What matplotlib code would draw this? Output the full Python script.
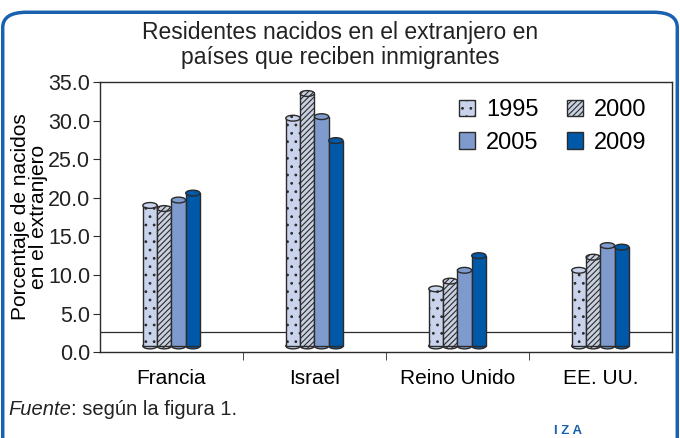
import matplotlib.pyplot as plt
from matplotlib.patches import Ellipse, FancyBboxPatch
import numpy as np

plt.rcParams['font.family'] = ['Liberation Sans Narrow', 'Liberation Sans', 'DejaVu Sans']
plt.rcParams['hatch.linewidth'] = 0.8

# data
countries = ['Francia', 'Israel', 'Reino Unido', 'EE. UU.']
years = ['1995', '2000', '2005', '2009']
v1995 = [19.0, 30.3, 8.2, 10.6]
v2000 = [18.6, 33.5, 9.2, 12.3]
v2005 = [19.7, 30.5, 10.6, 13.8]
v2009 = [20.6, 27.4, 12.5, 13.6]
series = [v1995, v2000, v2005, v2009]

colors = ['#c9d3ec', '#c9d0e2', '#7f9bcd', '#0058a9']
hatches = ['..', '//////', None, None]
edge = '#2b2b2b'

fig = plt.figure(figsize=(6.8, 4.38), dpi=100)
ax = fig.add_axes([0.147, 0.196, 0.841, 0.617])

x = np.arange(len(countries))
w = 0.1
base = 0.8      # bars stand on the 3D floor
ell_h = 0.75
handles = []
for i, vals in enumerate(series):
    xs = x + (i - 1.5) * w
    b = ax.bar(xs, np.array(vals) - base, bottom=base, width=w, color=colors[i],
               hatch=hatches[i], edgecolor=edge, linewidth=1.0, zorder=3, label=years[i])
    handles.append(b)
    for xi, v in zip(xs, vals):
        ax.add_patch(Ellipse((xi, base), w, ell_h, facecolor=colors[i], hatch=hatches[i],
                             edgecolor=edge, linewidth=1.0, zorder=2.9))
        ax.add_patch(Ellipse((xi, v), w, ell_h, facecolor=colors[i], hatch=hatches[i],
                             edgecolor=edge, linewidth=1.0, zorder=4))

ax.axhline(2.6, color='#2b2b2b', linewidth=0.9, zorder=1)

ax.set_xlim(-0.5, 3.5)
ax.set_ylim(0, 35)
ax.set_yticks(np.arange(0, 35.1, 5))
ax.set_yticklabels(['%.1f' % t for t in np.arange(0, 35.1, 5)], fontsize=15.5)
ax.set_xticks(x)
ax.set_xticklabels(countries, fontsize=15)
ax.set_xticks([0.5, 1.5, 2.5], minor=True)
ax.tick_params(axis='x', which='major', length=0, pad=12)
ax.tick_params(axis='x', which='minor', length=6, color='#2b2b2b')
ax.tick_params(axis='y', length=5, color='#2b2b2b', pad=2, labelcolor='#222222')
for s in ax.spines.values():
    s.set_color('#2b2b2b')
    s.set_linewidth(1.0)

ax.set_ylabel('Porcentaje de nacidos\nen el extranjero', fontsize=15, labelpad=0,
              linespacing=0.95)

# legend reads row-wise: 1995 2000 / 2005 2009
order = [0, 2, 1, 3]
ax.legend([handles[k] for k in order], [years[k] for k in order], ncol=2,
          loc='upper left', bbox_to_anchor=(0.59, 1.015), frameon=False,
          fontsize=17, handlelength=0.7, handleheight=0.7, handletextpad=0.45,
          columnspacing=1.2, labelspacing=0.45)

fig.text(0.5, 0.898, 'Residentes nacidos en el extranjero en\npaíses que reciben inmigrantes',
         ha='center', va='center', fontsize=16.5, linespacing=1.1, color='#222222')

t = fig.text(0.012, 0.052, 'Fuente', style='italic', fontsize=14.5, color='#222222',
             va='baseline')
ax.annotate(': según la figura 1.', xy=(1, 0), xycoords=t, fontsize=14.5, va='bottom',
            color='#222222', annotation_clip=False)
fig.text(0.814, 0.01, 'I Z A', fontsize=9.5, color='#1a62b0', fontweight='bold')

frame = FancyBboxPatch((0.004, -0.1), 0.992, 1.072, boxstyle='round,pad=0,rounding_size=0.035',
                       transform=fig.transFigure, facecolor='none', edgecolor='#1a62b0',
                       linewidth=2.5, clip_on=False)
fig.patches.append(frame)

fig.savefig('out.png', dpi=100)
